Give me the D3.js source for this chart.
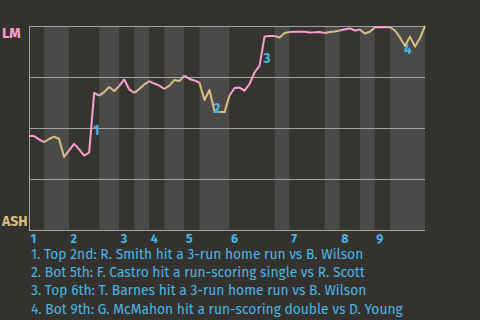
<!DOCTYPE html>
<html>
<head>
<meta charset="utf-8">
<script src="https://cdn.jsdelivr.net/npm/d3@7"></script>
<style>
  html, body { margin: 0; padding: 0; background: #34322e; }
  #chart-container { width: 480px; height: 320px; }
  text { font-family: "Fira Sans", Roboto, "Noto Sans", sans-serif; }
</style>
</head>
<body>
<div id="chart-container"></div>
<script>
// -------------------- DATA --------------------
// LM win probability after each plate appearance (index 0 = first pitch)
let winProb = [
  0.461, 0.461, 0.444, 0.431, 0.446, 0.458, 0.446, 0.358, 0.390, 0.422,
  0.395, 0.365, 0.380, 0.672, 0.659, 0.676, 0.701, 0.681, 0.706, 0.738,
  0.689, 0.672, 0.691, 0.713, 0.730, 0.718, 0.708, 0.691, 0.708, 0.735,
  0.730, 0.757, 0.740, 0.733, 0.723, 0.637, 0.686, 0.583, 0.578, 0.578,
  0.659, 0.696, 0.698, 0.683, 0.716, 0.772, 0.806, 0.949, 0.951, 0.951,
  0.944, 0.966, 0.971, 0.972, 0.972, 0.972, 0.968, 0.969, 0.971, 0.966,
  0.971, 0.973, 0.978, 0.984, 0.988, 0.978, 0.983, 0.963, 0.972, 0.994,
  0.994, 0.994, 0.994, 0.978, 0.944, 0.902, 0.948, 0.899, 0.941, 1.000
];

// last plate appearance of each half inning (top 1st, bot 1st, top 2nd ...)
let halfInningEnds = [3, 8, 14, 18, 21, 24, 27, 31, 34, 40, 49, 52, 59, 62, 66, 69, 72, 79];

let innings = ["1", "2", "3", "4", "5", "6", "7", "8", "9"];

let teams = ["LM", "ASH"];

let gridValues = [0, 0.25, 0.5, 0.75, 1];

let eventIdx = [13, 37, 47, 75];
let eventNotes = [
  "Top 2nd: R. Smith hit a 3-run home run vs B. Wilson",
  "Bot 5th: F. Castro hit a run-scoring single vs R. Scott",
  "Top 6th: T. Barnes hit a 3-run home run vs B. Wilson",
  "Bot 9th: G. McMahon hit a run-scoring double vs D. Young"
];

let colorMap = { LM: "#fb9fcf", ASH: "#d8bf88" };
const blue = "#4bb6e6";

const margin = { top: 26, right: 55, bottom: 90, left: 29 };
const width = 480 - margin.left - margin.right;
const height = 320 - margin.top - margin.bottom;

const x = d3.scaleLinear()
  .domain([0, winProb.length - 1])
  .range([0, width]);

const y = d3.scaleLinear()
  .domain([0, 1])
  .range([height, 0]);

const root = d3.select("#chart-container")
  .append("svg")
  .attr("width", 480)
  .attr("height", 320);

const svg = root.append("g")
  .attr("transform", `translate(${margin.left},${margin.top})`);

// half inning bands
const bands = halfInningEnds.map((e, i) => ({
  start: i === 0 ? 0 : halfInningEnds[i - 1],
  end: e,
  top: i % 2 === 0
}));

svg.selectAll("rect.band")
  .data(bands)
  .join("rect")
  .attr("class", "band")
  .attr("x", d => x(d.start))
  .attr("width", d => x(d.end) - x(d.start))
  .attr("y", 0)
  .attr("height", height)
  .attr("fill", d => d.top ? "#363430" : "#4b4a48");

// grid
svg.append("g")
  .call(d3.axisLeft(y).tickValues(gridValues).tickSize(-width).tickFormat("").tickSizeOuter(0))
  .call(g => g.select(".domain").attr("stroke", "#a3a3a3"))
  .call(g => g.selectAll(".tick line").attr("stroke", "#a3a3a3"));

// inning labels
svg.selectAll("text.inning")
  .data(innings)
  .join("text")
  .attr("class", "inning")
  .attr("x", (d, i) => x(i === 0 ? 0 : halfInningEnds[2 * i - 1]) + 1.5)
  .attr("y", height + 13)
  .attr("fill", blue)
  .attr("font-size", 12.5)
  .attr("font-weight", "bold")
  .text(d => d);

// team labels
root.append("text")
  .attr("x", 2)
  .attr("y", margin.top + 12)
  .attr("fill", colorMap.LM)
  .attr("font-size", 14.5)
  .attr("font-weight", "bold")
  .text(teams[0]);

root.append("text")
  .attr("x", 2)
  .attr("y", margin.top + height - 4)
  .attr("fill", colorMap.ASH)
  .attr("font-size", 14)
  .attr("font-weight", "bold")
  .text(teams[1]);

// win probability line, coloured by batting team
const line = d3.line()
  .x(d => x(d))
  .y(d => y(winProb[d]));

bands.forEach(b => {
  svg.append("path")
    .datum(d3.range(b.start, b.end + 1))
    .attr("fill", "none")
    .attr("stroke", b.top ? colorMap.LM : colorMap.ASH)
    .attr("stroke-width", 2)
    .attr("stroke-linejoin", "round")
    .attr("d", line);
});

// event markers
svg.selectAll("text.event")
  .data(eventIdx)
  .join("text")
  .attr("class", "event")
  .attr("x", d => x(d) - 1)
  .attr("y", d => (y(winProb[d - 1]) + y(winProb[d])) / 2 + 12)
  .attr("fill", blue)
  .attr("font-size", 13.5)
  .attr("font-weight", "bold")
  .text((d, i) => i + 1);

// footnotes
root.selectAll("text.note")
  .data(eventNotes)
  .join("text")
  .attr("class", "note")
  .attr("x", 31)
  .attr("y", (d, i) => 259 + i * 18.2)
  .attr("fill", blue)
  .attr("font-size", 13.8)
  .text((d, i) => `${i + 1}. ${d}`);
</script>
</body>
</html>
